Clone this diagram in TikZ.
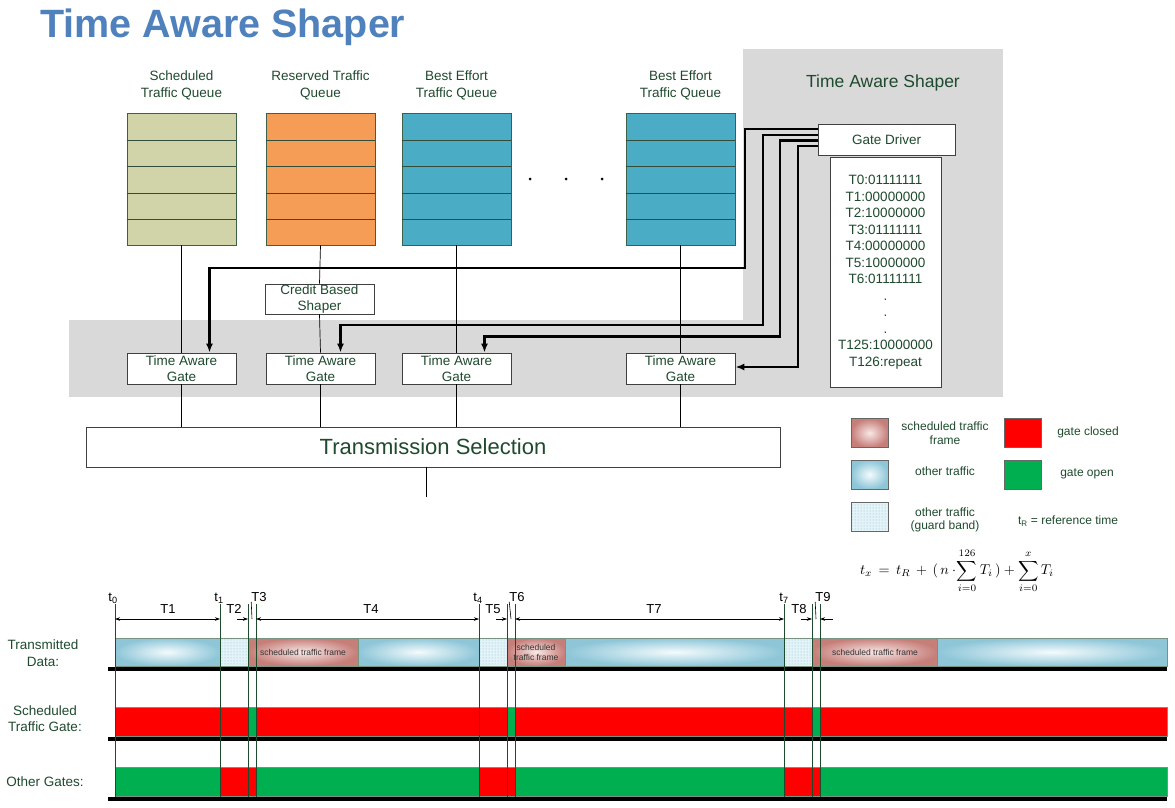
\documentclass[tikz,border=0pt]{standalone}
\usepackage{amsmath}
\usepackage{graphicx}
\usepackage[no-math]{fontspec}
\setmainfont{Liberation Sans}
\usetikzlibrary{arrows.meta,patterns,calc,shadings}
\definecolor{tg}{HTML}{1F4A2E}
\definecolor{bgray}{HTML}{D9D9D9}
\definecolor{qsched}{HTML}{D1D4A9}
\definecolor{qres}{HTML}{F59D56}
\definecolor{qbe}{HTML}{4BACC6}
\definecolor{qborder}{HTML}{3E6049}
\definecolor{titleblue}{HTML}{4F81BD}
\definecolor{sred}{HTML}{FF0000}
\definecolor{sgreen}{HTML}{00B050}
\definecolor{otherout}{HTML}{8EC6D8}
\definecolor{otherin}{HTML}{F4FBFD}
\definecolor{schedout}{HTML}{C67E79}
\definecolor{schedin}{HTML}{F8E8E6}
\definecolor{guardfill}{HTML}{E4F3F8}
\definecolor{guarddot}{HTML}{7DBBD0}
\definecolor{tlgreen}{HTML}{1E4B2C}
\tikzset{
  txt/.style={text=tg, font=\fontsize{13.5}{17}\selectfont, inner sep=0pt, align=center},
  legtxt/.style={text=tg, font=\fontsize{12}{13.5}\selectfont, inner sep=0pt, align=center},
  queue/.style={draw=qborder, line width=0.8pt, minimum width=109pt, minimum height=132pt, inner sep=0pt},
  rowline/.style={draw=qborder!80!black, line width=0.8pt},
  box/.style={draw=black!75, fill=white, line width=0.8pt, inner sep=0pt, align=center, text=tg, font=\fontsize{13.5}{16}\selectfont},
  conn/.style={line width=0.7pt, black},
  ctrl/.style={line width=2.2pt, black, -{Latex[length=9pt,width=7pt]}},
  swatch/.style={draw=black!60, line width=0.8pt, minimum width=37pt, minimum height=29pt, inner sep=0pt},
  othertr/.style={draw=tlgreen!60, line width=0.6pt, shading=radial, inner color=otherin, outer color=otherout},
  schedtr/.style={draw=tlgreen!60, line width=0.6pt, shading=radial, inner color=schedin, outer color=schedout},
  guardtr/.style={draw=tlgreen!60, line width=0.6pt, preaction={fill=guardfill}, pattern=dots, pattern color=guarddot},
  redseg/.style={fill=sred, draw=tlgreen!60, line width=0.6pt},
  greenseg/.style={fill=sgreen, draw=tlgreen!60, line width=0.6pt},
  vline/.style={draw=tlgreen, line width=0.9pt},
  dimline/.style={line width=0.6pt, black},
  tlbl/.style={font=\fontsize{13}{15}\selectfont, inner sep=0pt, text=black},
  rowlbl/.style={text=tg, font=\fontsize{13.5}{16.5}\selectfont, inner sep=0pt, align=center},
  frametxt/.style={text=black!80, font=\fontsize{8.5}{10}\selectfont, inner sep=0pt, align=center},
}
\begin{document}
\begin{tikzpicture}[x=1pt,y=-1pt]
\useasboundingbox (0,0) rectangle (1175,808);
% title
\node[anchor=base west, font=\fontsize{39.5}{40}\selectfont\bfseries, text=titleblue, inner sep=0pt] (title) at (40,38) {Time Aware Shaper};
% gray backgrounds
\fill[bgray] (743,49) rectangle (1003,397);
\fill[bgray] (69,320) rectangle (1003,397);
\node[txt, font=\fontsize{17.5}{20}\selectfont] (tasl) at (883,82.5) {Time Aware Shaper};
% queue labels
\node[txt] (l1) at (181.5,85) {Scheduled\\Traffic Queue};
\node[txt] (l2) at (320.5,85) {Reserved Traffic\\Queue};
\node[txt] (l3) at (456.5,85) {Best Effort\\Traffic Queue};
\node[txt] (l4) at (680.5,85) {Best Effort\\Traffic Queue};
% queues
\node[queue, fill=qsched] (q1) at (181.5,179) {};
\node[queue, fill=qres] (q2) at (320.5,179) {};
\node[queue, fill=qbe] (q3) at (456.5,179) {};
\node[queue, fill=qbe] (q4) at (680.5,179) {};
\foreach \q in {q1,q2,q3,q4}{
  \foreach \yy in {140,166,193,219}{
    \draw[rowline] ($(\q.west)+(0,\yy-179)$) -- ($(\q.east)+(0,\yy-179)$);
  }
}
\fill (530,179) circle (1.5pt);
\fill (566,179) circle (1.5pt);
\fill (602,179) circle (1.5pt);
% shaper and gates
\node[box, minimum width=109pt, minimum height=30pt] (cbs) at (319.5,299) {Credit Based\\Shaper};
\node[box, minimum width=109pt, minimum height=31pt] (g1) at (181.5,368.5) {Time Aware\\Gate};
\node[box, minimum width=109pt, minimum height=31pt] (g2) at (320.5,368.5) {Time Aware\\Gate};
\node[box, minimum width=109pt, minimum height=31pt] (g3) at (456.5,368.5) {Time Aware\\Gate};
\node[box, minimum width=109pt, minimum height=31pt] (g4) at (680.5,368.5) {Time Aware\\Gate};
\node[box, minimum width=694pt, minimum height=40pt, font=\fontsize{22}{24}\selectfont] (ts) at (433,447) {Transmission Selection};
% gate driver and list
\node[box, minimum width=111pt, minimum height=230pt, font=\fontsize{13.5}{16.5}\selectfont] (lst) at (885.5,272) {T0:01111111\\T1:00000000\\T2:10000000\\T3:01111111\\T4:00000000\\T5:10000000\\T6:01111111\\.\\.\\.\\T125:10000000\\T126:repeat};
\node[box, minimum width=137pt, minimum height=31pt] (gd) at (886.5,140) {Gate Driver};
% data connectors
\draw[conn] (q1.south) -- (g1.north);
\draw[conn] (q2.south) -- (cbs.north);
\draw[conn] (cbs.south) -- (g2.north);
\draw[conn] (q3.south) -- (g3.north);
\draw[conn] (q4.south) -- (g4.north);
\foreach \g in {g1,g2,g3,g4}{
  \draw[conn] (\g.south) -- (\g.south |- ts.north);
}
\coordinate (out) at (426,497);
\draw[conn] (out |- ts.south) -- (out);
% control connectors
\coordinate (d1) at ($(gd.west)+(0,-11)$);
\coordinate (d2) at ($(gd.west)+(0,-5)$);
\coordinate (d3) at ($(gd.west)+(0,0.5)$);
\coordinate (d4) at ($(gd.west)+(0,6)$);
\draw[ctrl] (d1) -| (745,268) -| ($(g1.north)+(28,0)$);
\draw[ctrl] (d2) -| (763,325) -| ($(g2.north)+(20,0)$);
\draw[ctrl] (d3) -| (780,336.5) -| ($(g3.north)+(28,0)$);
\draw[ctrl] (d4) -| (798,367) -- (g4.east |- 0,367);
% legend
\node[swatch, shading=radial, inner color=schedin, outer color=schedout] (lg1) at (869.5,433) {};
\node[legtxt] (lt1) at (945,433) {scheduled traffic\\frame};
\node[swatch, fill=sred] (lg2) at (1023,433) {};
\node[legtxt] (lt2) at (1088,432) {gate closed};
\node[swatch, shading=radial, inner color=otherin, outer color=otherout] (lg3) at (869.5,474.5) {};
\node[legtxt] (lt3) at (945,471) {other traffic};
\node[swatch, fill=sgreen] (lg4) at (1023,474.5) {};
\node[legtxt] (lt4) at (1087,474) {gate open};
\node[swatch, preaction={fill=guardfill}, pattern=dots, pattern color=guarddot] (lg5) at (869.5,516.5) {};
\node[legtxt] (lt5) at (945,520) {other traffic\\(guard band)};
\node[legtxt] (lt6) at (1068,521) {t\textsubscript{R} = reference time};
\node[inner sep=0pt] (frm) at (957,571) {\scalebox{1.42}{$\displaystyle t_x \,=\, t_R \,+\, (\,n\cdot\!\sum_{i=0}^{126} T_i\,) + \sum_{i=0}^{x} T_i$}};
% timeline row labels
\node[rowlbl] (r1) at (43,653) {Transmitted\\Data:};
\node[rowlbl] (r2) at (45,718.5) {Scheduled\\Traffic Gate:};
\node[rowlbl] (r3) at (45,782) {Other Gates:};
% transmitted data
\path[othertr] (115,638) rectangle (220,666);
\path[guardtr] (220,638) rectangle (248,666);
\path[schedtr] (248,638) rectangle (358,666);
\path[othertr] (358,638) rectangle (479,666);
\path[guardtr] (479,638) rectangle (507,666);
\path[schedtr] (507,638) rectangle (565,666);
\path[othertr] (565,638) rectangle (784,666);
\path[guardtr] (784,638) rectangle (812,666);
\path[schedtr] (812,638) rectangle (937,666);
\path[othertr] (937,638) rectangle (1167,666);
\node[frametxt] (f1) at (303,652) {scheduled traffic frame};
\node[frametxt] (f2) at (536,652) {scheduled\\traffic frame};
\node[frametxt] (f3) at (875,652) {scheduled traffic frame};
% scheduled gate
\path[redseg] (115,707) rectangle (248,736);
\path[greenseg] (248,707) rectangle (256,736);
\path[redseg] (256,707) rectangle (507,736);
\path[greenseg] (507,707) rectangle (515,736);
\path[redseg] (515,707) rectangle (812,736);
\path[greenseg] (812,707) rectangle (820,736);
\path[redseg] (820,707) rectangle (1167,736);
% other gates
\path[greenseg] (115,767) rectangle (220,796);
\path[redseg] (220,767) rectangle (256,796);
\path[greenseg] (256,767) rectangle (479,796);
\path[redseg] (479,767) rectangle (515,796);
\path[greenseg] (515,767) rectangle (784,796);
\path[redseg] (784,767) rectangle (820,796);
\path[greenseg] (820,767) rectangle (1167,796);
% baselines
\draw[line width=4pt] (108,669) -- (1167,669);
\draw[line width=4pt] (108,738.5) -- (1167,738.5);
\draw[line width=4pt] (108,798.5) -- (1167,798.5);
% transition lines
\foreach \xx in {115,220,248,256,479,507,515,784,812,820}{
  \draw[vline] (\xx,604) -- (\xx,797);
}
% time labels
\node[tlbl] (t0) at (113,598) {t\textsubscript{0}};
\node[tlbl] (t1) at (219,598) {t\textsubscript{1}};
\node[tlbl] (t4) at (478,598) {t\textsubscript{4}};
\node[tlbl] (t7) at (784,598) {t\textsubscript{7}};
\node[tlbl] (T1) at (168,609) {T1};
\node[tlbl] (T2) at (234,609) {T2};
\node[tlbl] (T3) at (259,597) {T3};
\node[tlbl] (T4) at (371,609) {T4};
\node[tlbl] (T5) at (493,609) {T5};
\node[tlbl] (T6) at (517,597) {T6};
\node[tlbl] (T7) at (654,609) {T7};
\node[tlbl] (T8) at (799,609) {T8};
\node[tlbl] (T9) at (823,597) {T9};
% dimension arrows
\draw[dimline, {Stealth[length=5pt,width=3.5pt]}-{Stealth[length=5pt,width=3.5pt]}] (115,619) -- (220,619);
\draw[dimline, -{Stealth[length=5pt,width=3.5pt]}] (237,619) -- (248,619);
\draw[dimline, {Stealth[length=5pt,width=3.5pt]}-{Stealth[length=5pt,width=3.5pt]}] (256,619) -- (479,619);
\draw[dimline, -{Stealth[length=5pt,width=3.5pt]}] (496,619) -- (507,619);
\draw[dimline, {Stealth[length=5pt,width=3.5pt]}-{Stealth[length=5pt,width=3.5pt]}] (515,619) -- (784,619);
\draw[dimline, -{Stealth[length=5pt,width=3.5pt]}] (801,619) -- (812,619);
\draw[dimline, {Stealth[length=5pt,width=3.5pt]}-] (820,619) -- (833,619);
\draw[dimline] (T3.south west) -- (252,619);
\draw[dimline] (T6.south west) -- (511,619);
\draw[dimline] (T9.south west) -- (816,619);
\end{tikzpicture}
\end{document}
